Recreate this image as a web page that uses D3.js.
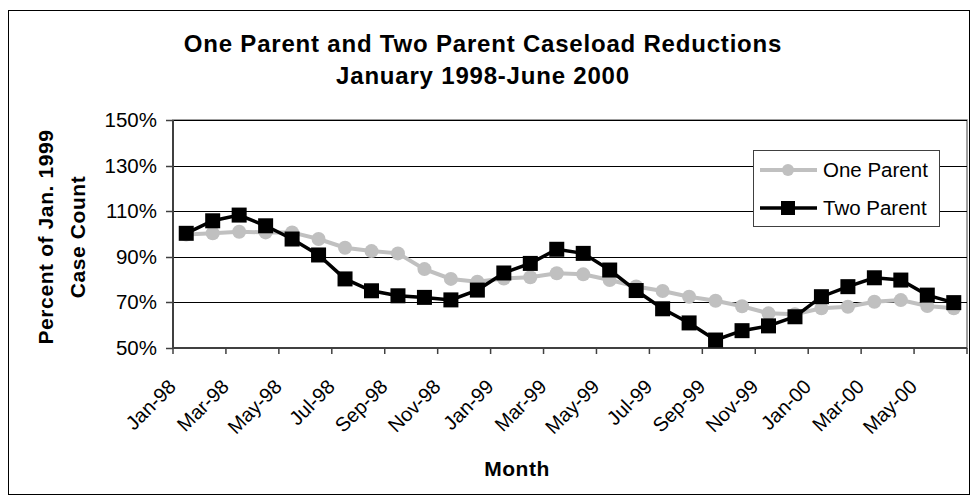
<!DOCTYPE html>
<html>
<head>
<meta charset="utf-8">
<script src="https://cdn.jsdelivr.net/npm/d3@7"></script>
<style>
  body { margin: 0; background: #fff; }
  text { font-family: "Liberation Sans", Arial, sans-serif; }
</style>
</head>
<body>
<script>
const months = ['Jan-98','Feb-98','Mar-98','Apr-98','May-98','Jun-98','Jul-98','Aug-98','Sep-98','Oct-98','Nov-98','Dec-98',
  'Jan-99','Feb-99','Mar-99','Apr-99','May-99','Jun-99','Jul-99','Aug-99','Sep-99','Oct-99','Nov-99','Dec-99',
  'Jan-00','Feb-00','Mar-00','Apr-00','May-00','Jun-00'];
const oneParent = [99.8, 100.3, 101, 100.7, 100.7, 97.8, 94, 92.5, 91.5, 84.6, 80.3, 79.1,
  80.5, 81, 82.8, 82.3, 79.8, 77, 75, 72.5, 70.7, 68.3, 65.2, 64.8,
  67.4, 68.1, 70.3, 71, 68.4, 67.4];
const twoParent = [100.3, 105.8, 108.3, 103.6, 97.8, 90.8, 80.3, 75.1, 72.9, 72.2, 71.1, 75.4,
  82.9, 87.1, 93.3, 91.5, 84.2, 75.2, 67.2, 61, 53.5, 57.6, 59.7, 63.7,
  72.5, 76.9, 80.8, 79.8, 73.2, 69.9];
const yTicks = [50, 70, 90, 110, 130, 150];

const svg = d3.select(document.body).append('svg')
  .attr('width', 977).attr('height', 502);

// outer chart border
svg.append('rect')
  .attr('x', 8.5).attr('y', 10.5).attr('width', 961).attr('height', 484)
  .attr('fill', 'none').attr('stroke', '#000').attr('stroke-width', 1);

const plotL = 173, plotR = 967, plotT = 120, plotB = 348;

const x = d3.scaleBand().domain(months).range([plotL, plotR]).padding(0);
const y = d3.scaleLinear().domain([50, 150]).range([plotB, plotT]);
const cx = d => x(d) + x.bandwidth() / 2;

// plot area border
svg.append('rect')
  .attr('x', plotL).attr('y', plotT).attr('width', plotR - plotL).attr('height', plotB - plotT)
  .attr('fill', 'none').attr('stroke', '#808080').attr('stroke-width', 1.5);

// gridlines
svg.append('g').selectAll('line')
  .data(yTicks.slice(1))
  .join('line')
  .attr('x1', plotL).attr('x2', plotR)
  .attr('y1', d => Math.round(y(d)) + 0.5).attr('y2', d => Math.round(y(d)) + 0.5)
  .attr('stroke', '#000').attr('stroke-width', 1);

// y axis
const yAxis = svg.append('g');
yAxis.append('line')
  .attr('x1', plotL).attr('x2', plotL).attr('y1', plotT).attr('y2', plotB + 1)
  .attr('stroke', '#404040').attr('stroke-width', 2);
yAxis.selectAll('line.tk')
  .data(yTicks)
  .join('line').attr('class', 'tk')
  .attr('x1', plotL - 7).attr('x2', plotL)
  .attr('y1', d => Math.round(y(d)) + 0.5).attr('y2', d => Math.round(y(d)) + 0.5)
  .attr('stroke', '#404040').attr('stroke-width', 1.5);
yAxis.selectAll('text')
  .data(yTicks)
  .join('text')
  .attr('x', 157).attr('y', d => y(d) + 7)
  .attr('text-anchor', 'end')
  .attr('font-size', 20.5)
  .text(d => d + '%');

// x axis
const xAxis = svg.append('g');
xAxis.append('line')
  .attr('x1', plotL).attr('x2', plotR).attr('y1', plotB).attr('y2', plotB)
  .attr('stroke', '#404040').attr('stroke-width', 2);
const tickPos = months.filter((m, i) => i % 2 === 0).map(m => x(m)).concat([plotR]);
xAxis.selectAll('line.tk')
  .data(tickPos)
  .join('line').attr('class', 'tk')
  .attr('x1', d => d).attr('x2', d => d)
  .attr('y1', plotB).attr('y2', plotB + 6)
  .attr('stroke', '#404040').attr('stroke-width', 1.5);
xAxis.selectAll('text')
  .data(months.filter((m, i) => i % 2 === 0))
  .join('text')
  .attr('transform', d => `translate(${cx(d) - 9}, 388) rotate(-45)`)
  .attr('text-anchor', 'end')
  .attr('font-size', 20)
  .text(d => d);

// series
const line = d3.line().x((d, i) => cx(months[i])).y(d => y(d));

svg.append('path')
  .datum(oneParent)
  .attr('d', line)
  .attr('fill', 'none').attr('stroke', '#c0c0c0').attr('stroke-width', 4);
svg.append('g').selectAll('circle')
  .data(oneParent)
  .join('circle')
  .attr('cx', (d, i) => cx(months[i])).attr('cy', d => y(d))
  .attr('r', 7).attr('fill', '#c0c0c0');

svg.append('path')
  .datum(twoParent)
  .attr('d', line)
  .attr('fill', 'none').attr('stroke', '#000').attr('stroke-width', 3.5);
svg.append('g').selectAll('rect')
  .data(twoParent)
  .join('rect')
  .attr('x', (d, i) => cx(months[i]) - 7.5).attr('y', d => y(d) - 7.5)
  .attr('width', 15).attr('height', 15).attr('fill', '#000');

// legend
const legend = svg.append('g');
legend.append('rect')
  .attr('x', 753.5).attr('y', 150.5).attr('width', 186).attr('height', 76)
  .attr('fill', '#fff').attr('stroke', '#404040').attr('stroke-width', 1);
const row1 = 170, row2 = 208;
legend.append('line').attr('x1', 760).attr('x2', 817).attr('y1', row1).attr('y2', row1)
  .attr('stroke', '#c0c0c0').attr('stroke-width', 4);
legend.append('circle').attr('cx', 788).attr('cy', row1).attr('r', 6).attr('fill', '#c0c0c0');
legend.append('text').attr('x', 823).attr('y', row1 + 7).attr('font-size', 20.5).text('One Parent');
legend.append('line').attr('x1', 760).attr('x2', 817).attr('y1', row2).attr('y2', row2)
  .attr('stroke', '#000').attr('stroke-width', 3.5);
legend.append('rect').attr('x', 781).attr('y', row2 - 7).attr('width', 14).attr('height', 14).attr('fill', '#000');
legend.append('text').attr('x', 823).attr('y', row2 + 7).attr('font-size', 20.5).text('Two Parent');

// titles
svg.append('text')
  .attr('x', 483).attr('y', 52).attr('text-anchor', 'middle')
  .attr('font-size', 24).attr('font-weight', 'bold').attr('letter-spacing', 0.8)
  .text('One Parent and Two Parent Caseload Reductions');
svg.append('text')
  .attr('x', 483).attr('y', 84).attr('text-anchor', 'middle')
  .attr('font-size', 24).attr('font-weight', 'bold').attr('letter-spacing', 0.8)
  .text('January 1998-June 2000');

const yTitle = svg.append('text')
  .attr('transform', `translate(0, ${(plotT + plotB) / 2 + 3}) rotate(-90)`)
  .attr('text-anchor', 'middle')
  .attr('font-size', 21).attr('font-weight', 'bold').attr('letter-spacing', 0.6);
yTitle.append('tspan').attr('x', 0).attr('y', 53).text('Percent of Jan. 1999');
yTitle.append('tspan').attr('x', 0).attr('y', 85).text('Case Count');

svg.append('text')
  .attr('x', 517).attr('y', 476).attr('text-anchor', 'middle')
  .attr('font-size', 21).attr('font-weight', 'bold').attr('letter-spacing', 0.5)
  .text('Month');
</script>
</body>
</html>
